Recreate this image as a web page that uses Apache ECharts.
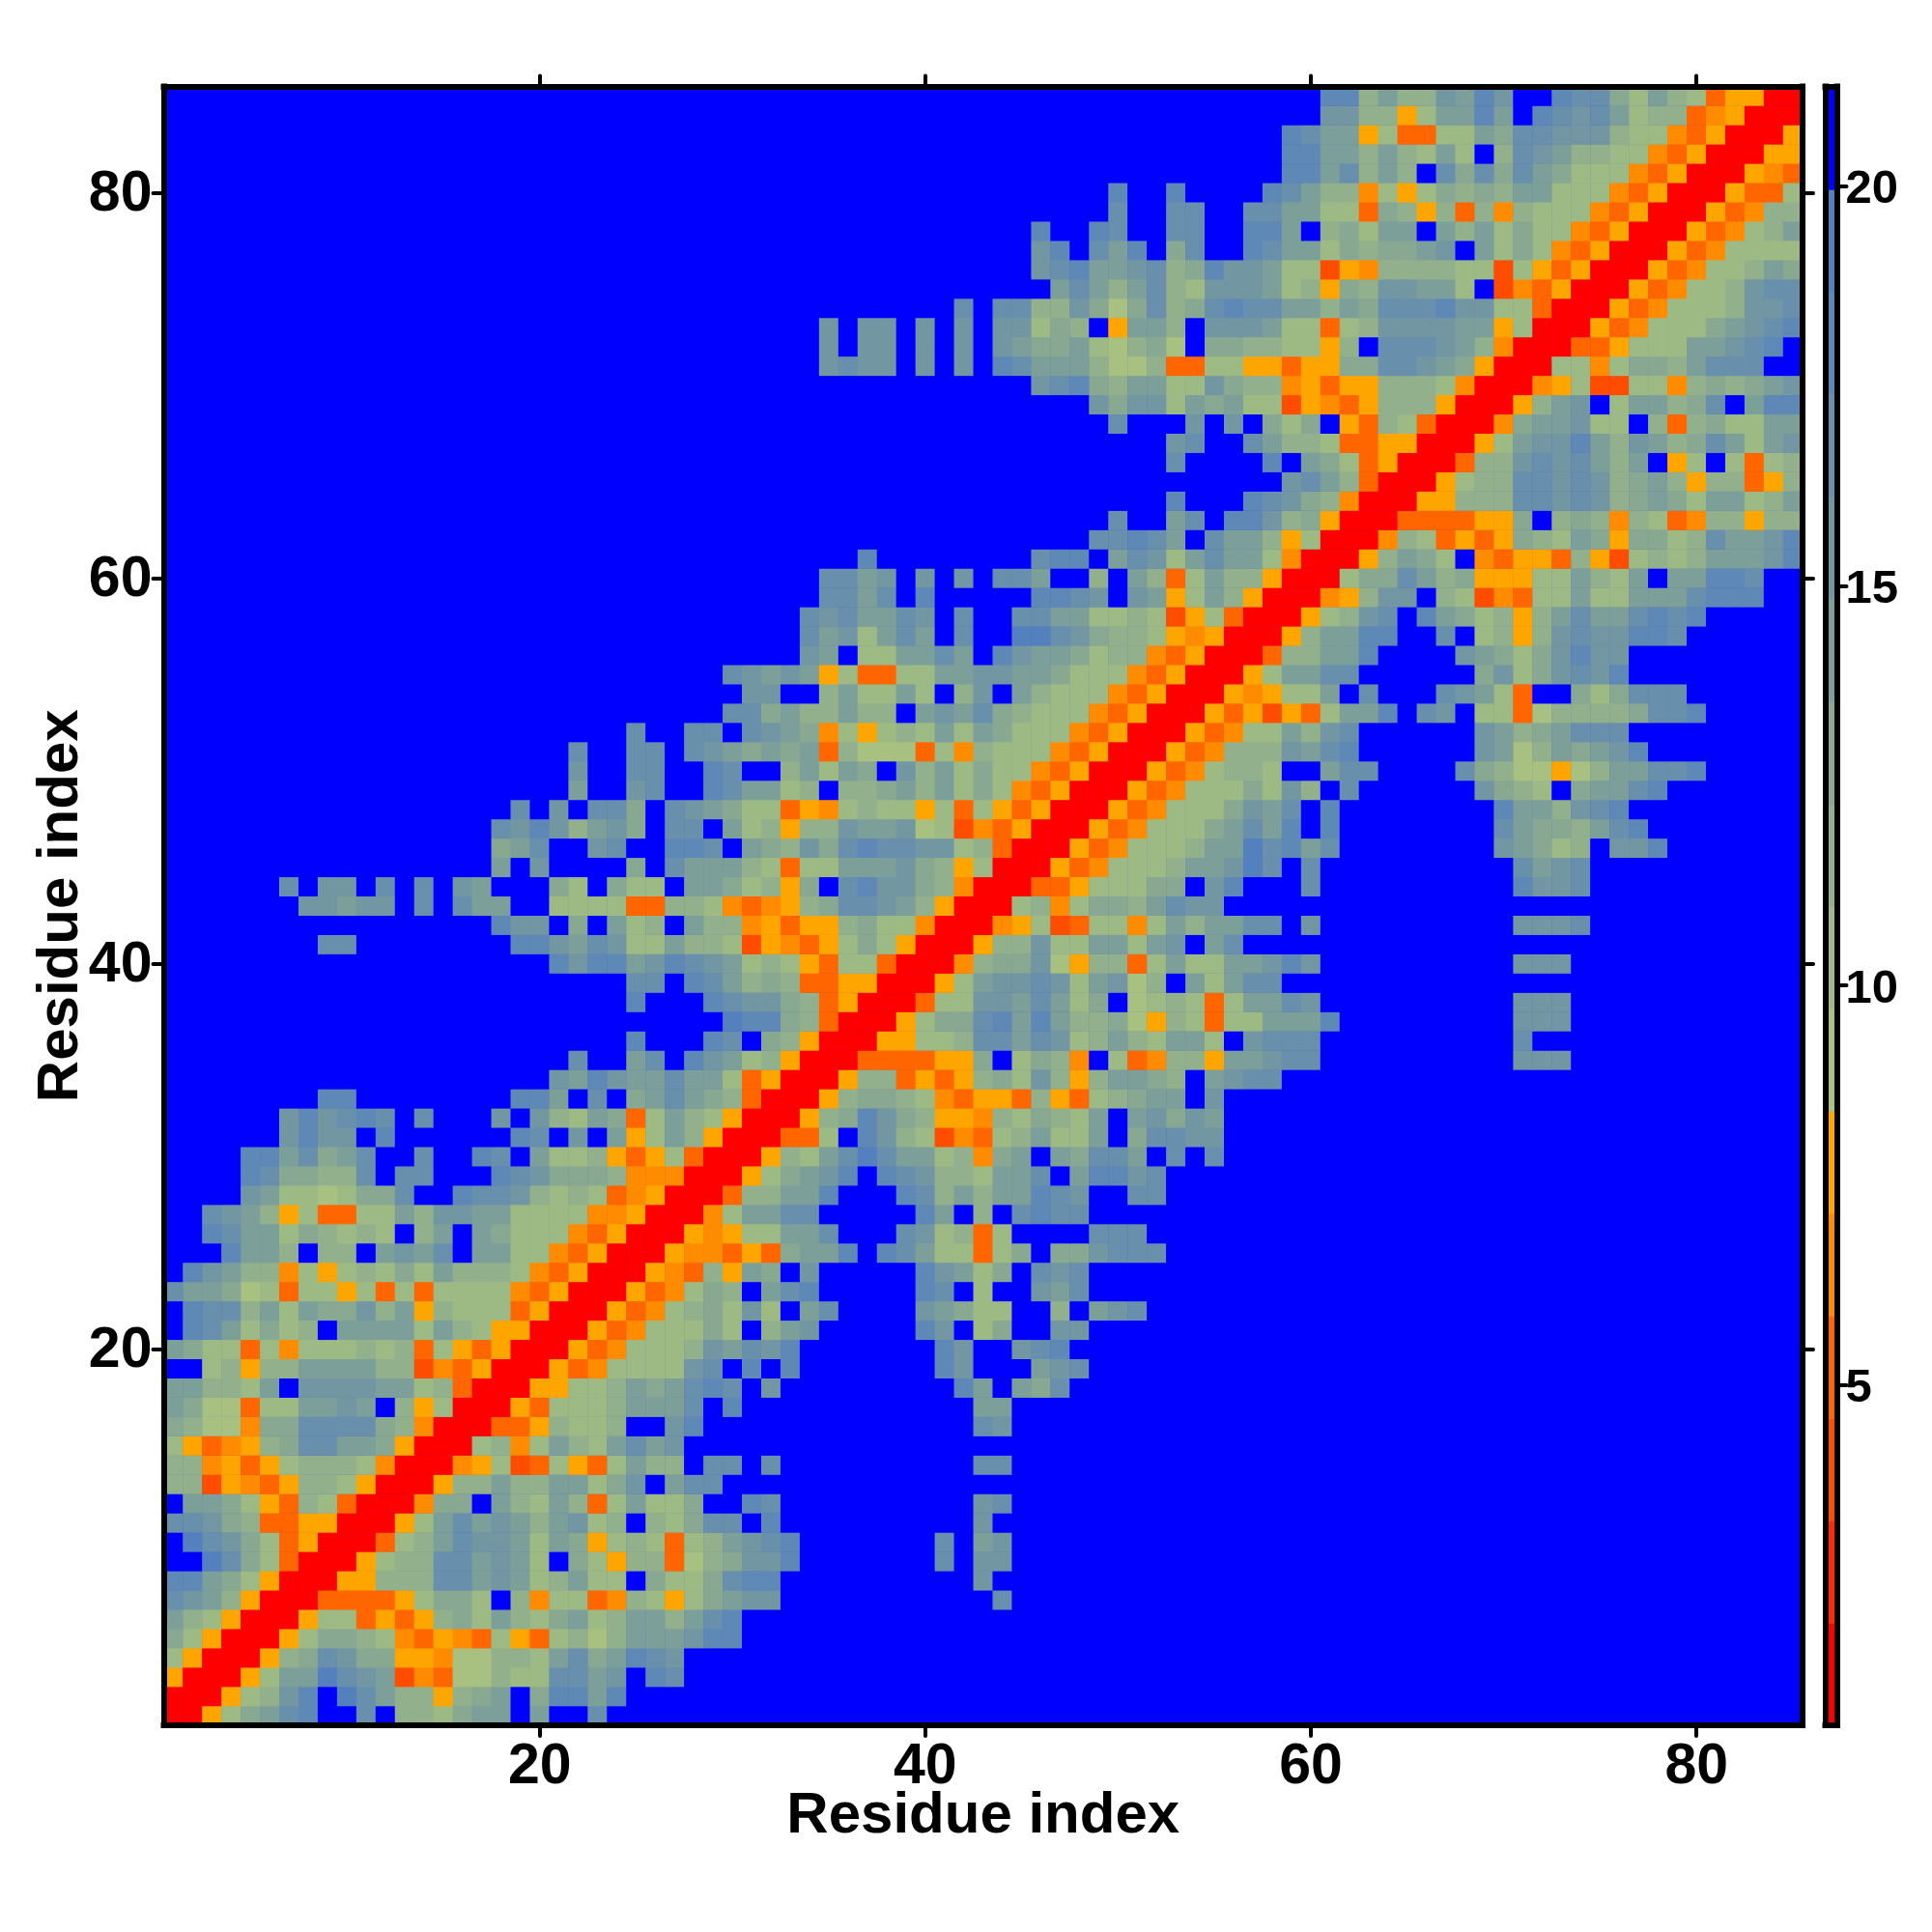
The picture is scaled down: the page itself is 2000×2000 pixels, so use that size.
<!DOCTYPE html>
<html><head><meta charset="utf-8">
<script src="https://cdn.jsdelivr.net/npm/echarts@6/dist/echarts.min.js"></script>
<style>html,body{margin:0;padding:0;background:#fff}#c{width:2000px;height:2000px}</style>
</head><body><div id="c"></div>
<script>
// Colour bands of the key (low edge of first band .. high edge of last band)
const bandEdges = [0.744,2.02,3.30,4.58,5.87,7.15,8.43,9.71,10.99,12.27,13.55,14.84,16.12,17.40,18.68,19.96,21.25];
const bandValues = [1.4,2.7,4.0,5.2,6.5,7.8,9.1,10.4,11.6,12.9,14.2,15.5,16.8,18.0,19.3,20.6];
const bandColors = ['#ff0000','#ff2a00','#ff4d00','#ff6600','#ff8c00','#ffa500','#a8c080','#9dba85','#92b08b','#88a892','#7d9f9a','#7297a3','#688fac','#5e88b5','#5480bd','#0000ff'];
const keyTicks = [5,10,15,20];
const residueTicks = [20,40,60,80];
// Lower triangle of the symmetric map, one hex band code per residue, right-aligned on the diagonal.
const triangleRows = [
"0","00","500","7500","97500","a87500","cba8500","dda97500","ec97300","ecb973500",
"ccb98335500","faa975387300","8825435887500","88453578887400","7534589ccaa9500","9866499cccc98400",
"a966377aabaf85700","aa887afbbbbaa78300","ff78588aaaa88243500","a9773747778783753500",
"fdca7978faaaa7a875500","fdcc8a7a99b8a587773500","caa96737757373777743500","fdba8847578797a888743500",
"fffdaa8f88fabacfaa7743500","ffdcaa798787f8afa977743500","ffcba8573377a8bbaa777744500","ffffba776799cffdccb878734500",
"ffffdc9988cfccfffdcb999844400","ffffddac9acffcffdcfa7785357300","ffffffbdbbfdffffffdcfbfa57a8500","ffffffbdbcdcfcfffbfb87a937a87500",
"ffffffffddffffffffddafcf9aca98300","badbaacaa73500","cffacfdba78500","dfffdcf98500","edd98300","dfffdcbb983500","ccfdca898335500",
"dbddabdcba7875377300","ffffffffccffffffffddbacb77a88725435797500","dbbf9fa78fa88453558977400",
"fffffffbbabbfcfcaaff777733887434589ccba8500","ffffffcfbbfcfcfbafff97f977faa97859fcdbb98400",
"afbffff9fcaaa87377aaab985700","9acffbcffddcfa98b9cdccbb78300","cbdb8ab9fccfa78588baab67243500",
"cfbfcc9fcba9773547877573753500","affbcffdcaa78f889a8a79743500","bffccffdcff8a7a9fb8a797743500",
"cffccfcba9a9a38666374877743500","cffccfcba9475787a7a977743500","cc9a88a88fabac9877743500","bbff8a77a7f8bfa877743500",
"cbaba573377aabbaa977743500","baf77aacafdbaa978843500","cab7acafcffeecb988754500","cbcaacbfcffccaa7787257300",
"ccacfdfffffddcbfba57a8500","ccabfbfbfccaff8fa837a88500","dffffffffcddfacb7acaa7400","ccdcafcaa85700","cffacfddb89500",
"dfffdcb98400","bca8300","cffffdfa973500","bcffca887335500","cfffbfbf979f5387300","b9bb7a9a7725435888500",
"bcd98aa77b988453558887400","bcbbfbfbfdcaaa866833775535599ccba9500","bfbbfbfbfba99a76896f99887758fcccba8400",
"bfbbfbfbfbb798f5aa8fbbba77378bbbbaa5700","cfcc88b969c89cdccaa8a9cccdbb77300","aca8ac87bbba78598bbaa7f243500",
"bcdaabc89dbba772548888772753500","bdfcadf9cffdcaa79899abfa79743500","dffdcffccffddaf897aafa8a797743500",
"cffccffccaa7739858384877743500","dffdffffdca8847579898aa77743500","ddac8a8fc9c9ca977743500","ddaa8a87a7f8cba887743500",
"dcaa573377a9ccbbb87743500","bb8857aadafdcbca78834500","dd8a88badbffdcc97a8735500"
];

const n = triangleRows.length;
const residues = Array.from({length:n},(_,i)=>String(i+1));
const cells = new Map();
triangleRows.forEach((s,r)=>{
  for(let k=0;k<s.length;k++){
    const code=parseInt(s[s.length-1-k],16), c=r-k;
    cells.set(r+'_'+c,code); cells.set(c+'_'+r,code);
  }
});
const heatData=[];
for(let r=0;r<n;r++)for(let c=0;c<n;c++){
  const code=cells.has(r+'_'+c)?cells.get(r+'_'+c):15;
  heatData.push([c,r,bandValues[code]]);
}
const keyData=bandColors.map((_,i)=>[bandEdges[i],bandEdges[i+1],bandValues[i]]);
const showTick=(i,v)=>residueTicks.includes(+v);
const FONT='"Liberation Sans",Arial,sans-serif';
const frame={onZero:false,lineStyle:{color:'#000',width:6,cap:'square'}};
const tick={show:true,interval:showTick,alignWithLabel:true,length:11,lineStyle:{color:'#000',width:4,cap:'round'}};
const label={show:true,interval:showTick,color:'#000',fontFamily:FONT,fontWeight:'bold',fontSize:59};
const nameStyle={color:'#000',fontFamily:FONT,fontWeight:'bold',fontSize:60};
const richText=(size,drop)=>({color:'#000',fontFamily:FONT,fontWeight:'bold',fontSize:size,padding:[drop,0,0,0]});

const chart=echarts.init(document.getElementById('c'),null,{renderer:'canvas',width:2000,height:2000});
chart.setOption({
  animation:false,
  backgroundColor:'#fff',
  grid:[
    {left:169.5,top:89.5,width:1696.5,height:1696.5,containLabel:false,outerBoundsMode:'none',show:true,backgroundColor:'#0000ff',borderWidth:0},
    {left:1889.5,top:89.5,width:12,height:1696.5,containLabel:false,outerBoundsMode:'none'}
  ],
  visualMap:{show:false,type:'piecewise',seriesIndex:0,dimension:2,
    pieces:bandColors.map((color,i)=>({min:bandEdges[i],max:bandEdges[i+1],color}))},
  xAxis:[
    {type:'category',gridIndex:0,position:'bottom',data:residues,z:10,axisLine:frame,axisTick:tick,
      axisLabel:{...label,margin:14},splitLine:{show:false},name:'Residue index',nameLocation:'middle',nameGap:64.5,nameMoveOverlap:false,nameTextStyle:nameStyle},
    {type:'category',gridIndex:0,position:'top',data:residues,z:10,axisLine:frame,axisTick:tick,axisLabel:{show:false},splitLine:{show:false}},
    {type:'value',gridIndex:1,position:'bottom',min:0,max:1,z:10,axisLine:{show:true,...frame},axisTick:{show:false},axisLabel:{show:false},splitLine:{show:false}},
    {type:'value',gridIndex:1,position:'top',min:0,max:1,z:10,axisLine:{show:true,...frame},axisTick:{show:false},axisLabel:{show:false},splitLine:{show:false}}
  ],
  yAxis:[
    {type:'category',gridIndex:0,position:'left',data:residues,z:10,axisLine:frame,axisTick:tick,
      axisLabel:{...label,margin:12,formatter:'{t|{value}}',rich:{t:richText(59,4)}},splitLine:{show:false},name:'Residue index',nameLocation:'middle',nameGap:76,nameMoveOverlap:false,nameTextStyle:nameStyle},
    {type:'category',gridIndex:0,position:'right',data:residues,z:10,axisLine:frame,axisTick:tick,axisLabel:{show:false},splitLine:{show:false}},
    {type:'value',gridIndex:1,position:'right',min:bandEdges[0],max:bandEdges[bandEdges.length-1],z:10,axisLine:{show:true,...frame},
      axisTick:{show:true,customValues:keyTicks,length:10,lineStyle:{color:'#000',width:4,cap:'round'}},
      axisLabel:{show:true,customValues:keyTicks,margin:9,formatter:'{t|{value}}',rich:{t:richText(49,8)},color:'#000',fontFamily:FONT,fontWeight:'bold',fontSize:49},splitLine:{show:false}},
    {type:'value',gridIndex:1,position:'left',min:bandEdges[0],max:bandEdges[bandEdges.length-1],z:10,axisLine:{show:true,...frame},axisTick:{show:false},axisLabel:{show:false},splitLine:{show:false}}
  ],
  series:[
    {type:'heatmap',xAxisIndex:0,yAxisIndex:0,data:heatData,progressive:0,itemStyle:{borderWidth:0},emphasis:{disabled:true}},
    {type:'custom',xAxisIndex:2,yAxisIndex:2,data:keyData,silent:true,encode:{y:[0,1]},clip:true,
      renderItem:(params,api)=>{
        const a=api.coord([0,api.value(0)]),b=api.coord([1,api.value(1)]);
        return {type:'rect',shape:{x:a[0],y:b[1],width:b[0]-a[0],height:a[1]-b[1]+0.5},style:{fill:bandColors[params.dataIndex]}};
      }}
  ]
});
</script></body></html>
